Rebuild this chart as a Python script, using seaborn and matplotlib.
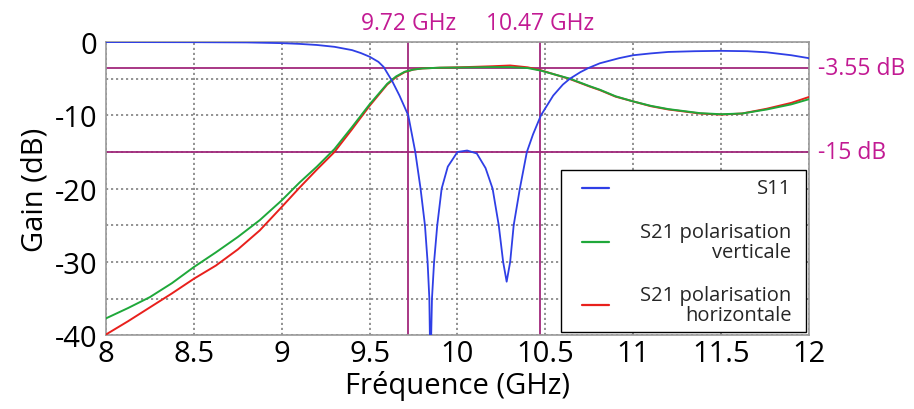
import numpy as np
import pandas as pd
import matplotlib
matplotlib.use("Agg")
import matplotlib.pyplot as plt
import seaborn as sns

# S11 (reflection)
s11_freq = [8.0, 8.5, 8.8, 9.0, 9.1, 9.2, 9.3, 9.4, 9.45, 9.5, 9.55, 9.58, 9.6, 9.63,
            9.67, 9.72, 9.76, 9.79, 9.815, 9.83, 9.84, 9.846, 9.855, 9.867, 9.885,
            9.91, 9.945, 10.0, 10.055, 10.11, 10.16, 10.2, 10.235, 10.26, 10.28, 10.3,
            10.32, 10.355, 10.395, 10.43, 10.475, 10.545, 10.6, 10.64, 10.7, 10.745,
            10.81, 10.92, 11.0, 11.1, 11.2, 11.35, 11.5, 11.65, 11.76, 11.9, 12.0]
s11_db = [0.0, -0.02, -0.05, -0.15, -0.25, -0.4, -0.65, -1.1, -1.5, -2.0, -2.7, -3.4,
          -4.2, -5.4, -7.3, -10.0, -15.0, -20.0, -25.0, -30.0, -35.0, -45.0, -35.0,
          -30.0, -25.0, -20.0, -17.0, -15.0, -14.8, -15.2, -17.2, -20.0, -25.0, -30.0,
          -32.7, -30.0, -25.0, -20.0, -15.0, -12.6, -10.0, -7.3, -5.8, -5.0, -4.1,
          -3.55, -2.9, -2.2, -1.8, -1.55, -1.35, -1.25, -1.2, -1.25, -1.4, -1.8, -2.2]

# S21 polarisation verticale / horizontale
s21_freq = [8.0, 8.125, 8.25, 8.375, 8.5, 8.625, 8.75, 8.875, 9.0, 9.1, 9.2, 9.3, 9.4,
            9.5, 9.6, 9.65, 9.7, 9.75, 9.8, 9.9, 10.0, 10.1, 10.2, 10.3, 10.4, 10.475,
            10.55, 10.64, 10.75, 10.81, 10.9, 11.0, 11.1, 11.2, 11.38, 11.5, 11.62,
            11.76, 11.9, 12.0]
s21_vert = [-37.7, -36.3, -34.8, -32.9, -30.7, -28.7, -26.6, -24.3, -21.6, -19.2,
            -17.0, -14.6, -11.6, -8.5, -5.7, -4.7, -4.05, -3.75, -3.6, -3.5, -3.48,
            -3.45, -3.42, -3.42, -3.55, -3.9, -4.4, -5.0, -6.0, -6.5, -7.4, -8.1, -8.7,
            -9.15, -9.7, -9.85, -9.75, -9.2, -8.5, -7.8]
s21_horiz = [-39.9, -38.1, -36.2, -34.3, -32.3, -30.5, -28.3, -25.7, -22.5, -19.9,
             -17.4, -15.0, -11.9, -8.7, -5.8, -4.8, -4.1, -3.75, -3.6, -3.5, -3.45,
             -3.38, -3.3, -3.2, -3.45, -3.85, -4.4, -5.05, -6.05, -6.55, -7.45, -8.1,
             -8.75, -9.2, -9.75, -9.9, -9.75, -9.1, -8.3, -7.5]

marker_freqs = [9.72, 10.47]
marker_levels = [-3.55, -15]

x_ticks = [8, 8.5, 9, 9.5, 10, 10.5, 11, 11.5, 12]
x_labels = ["8", "8.5", "9", "9.5", "10", "10.5", "11", "11.5", "12"]
y_ticks = [0, -5, -10, -15, -20, -25, -30, -35, -40]
y_labels = ["0", "", "-10", "", "-20", "", "-30", "", "-40"]

sns.set_style("white")
plt.rcParams["font.family"] = ["Open Sans", "DejaVu Sans"]
plt.rcParams["axes.unicode_minus"] = False

blue = "#2f3fe6"
green = "#1fa83a"
red = "#e8201c"
mag_line = "#a1287c"
mag_text = "#c21a93"

fig = plt.figure(figsize=(9.14, 4.10), dpi=100)
ax = fig.add_axes([0.116, 0.180, 0.769, 0.715])

df11 = pd.DataFrame({"f": s11_freq, "g": s11_db})
df21 = pd.DataFrame({"f": s21_freq, "v": s21_vert, "h": s21_horiz})

for y in marker_levels:
    ax.axhline(y, color=mag_line, lw=1.3, zorder=2)
for x in marker_freqs:
    ax.axvline(x, color=mag_line, lw=1.3, zorder=2)

sns.lineplot(data=df21, x="f", y="h", ax=ax, color=red, lw=1.4, zorder=3)
sns.lineplot(data=df21, x="f", y="v", ax=ax, color=green, lw=1.4, zorder=3)
sns.lineplot(data=df11, x="f", y="g", ax=ax, color=blue, lw=1.3, zorder=4)

ax.set_xlim(8, 12)
ax.set_ylim(-40, 0)
ax.set_xticks(x_ticks)
ax.set_xticklabels(x_labels)
ax.set_yticks(y_ticks)
ax.set_yticklabels(y_labels)
ax.grid(True, color="#808080", ls=(0, (1.3, 1.7)), lw=1.2, zorder=1)
ax.set_axisbelow(True)
ax.tick_params(axis="x", length=0, labelsize=21, pad=3, labelcolor="black")
ax.tick_params(axis="y", direction="in", length=4, color="#999999",
               labelsize=21, pad=6, labelcolor="black")
for s in ax.spines.values():
    s.set_color("#999999")
    s.set_linewidth(1.2)

ax.set_xlabel("Fréquence (GHz)", fontsize=21, labelpad=1, color="black")
ax.set_ylabel("Gain (dB)", fontsize=21, labelpad=4, color="black")

for x in marker_freqs:
    ax.text(x, 1.0, f"{x:.2f} GHz", color=mag_text, fontsize=16.5,
            ha="center", va="bottom", clip_on=False)
for y in marker_levels:
    ax.text(12.05, y, f"{y:g} dB", color=mag_text, fontsize=16.5,
            ha="left", va="center", clip_on=False)

# legend box drawn by hand (right-aligned labels)
ax.add_patch(plt.Rectangle((0.647, 0.01), 0.349, 0.553, transform=ax.transAxes,
                           facecolor="white", edgecolor="black", lw=1.0, zorder=5))
leg_items = [(blue, "S11", 0.503), (green, "S21 polarisation\nverticale", 0.318),
             (red, "S21 polarisation\nhorizontale", 0.102)]
for c, lab, yy in leg_items:
    ax.plot([0.677, 0.715], [yy, yy], color=c, lw=1.6, transform=ax.transAxes, zorder=6)
    ax.text(0.975, yy, lab, transform=ax.transAxes, ha="right", va="center",
            multialignment="right", fontsize=14.5, linespacing=1.0, zorder=6)

fig.savefig("out.png", dpi=100)
